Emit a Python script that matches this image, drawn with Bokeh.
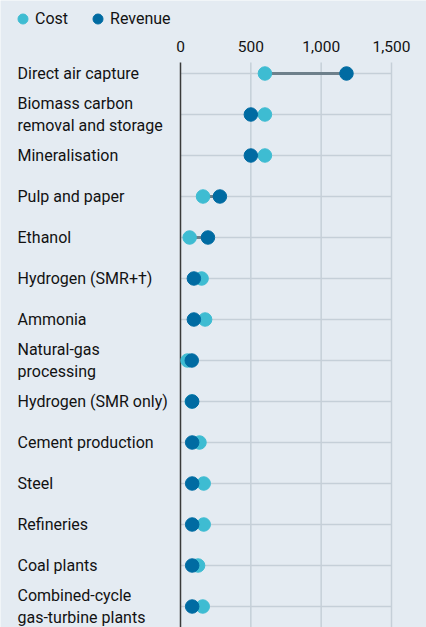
from bokeh.plotting import figure
from bokeh.models import (Range1d, LinearAxis, FixedTicker, NumeralTickFormatter,
                          Legend, LegendItem, ColumnDataSource)
from bokeh.core.properties import value
from bokeh.embed import file_html
from bokeh.resources import INLINE

# ---- data ----
categories = [
    "Direct air capture",
    "Biomass carbon\nremoval and storage",
    "Mineralisation",
    "Pulp and paper",
    "Ethanol",
    "Hydrogen (SMR+\u2020)",
    "Ammonia",
    "Natural-gas\nprocessing",
    "Hydrogen (SMR only)",
    "Cement production",
    "Steel",
    "Refineries",
    "Coal plants",
    "Combined-cycle\ngas-turbine plants",
]
cost = [600, 600, 600, 160, 65, 150, 175, 50, 80, 135, 165, 165, 125, 158]
revenue = [1180, 500, 500, 280, 195, 95, 95, 80, 83, 83, 83, 83, 83, 83]
ticks = [0, 500, 1000, 1500]

BG = "#E4EBF2"
COST_C = "#3EBCD2"
REV_C = "#006BA2"
GRID_C = "#C5CFD8"
TEXT_C = "#121212"
FONT = "Roboto"

W, H = 426, 627
n = len(categories)
ys = list(range(n))

# x mapping: zero at 180px, 1500 at 391px
px_per_unit = (391 - 180) / 1500.0
x_start = -180 / px_per_unit
x_end = (W - 180) / px_per_unit
# y mapping: row i centre at 73 + 41*i px
row0, step = 73, 41.0
y_top = -row0 / step
y_bot = (H - row0) / step
grid_top = (62 - row0) / step

p = figure(width=W, height=H, output_backend="svg", toolbar_location=None,
           x_range=Range1d(x_start, x_end), y_range=Range1d(y_bot, y_top),
           x_axis_location=None, y_axis_location=None,
           min_border=0,
           background_fill_color=BG, border_fill_color=BG, outline_line_color=None)
p.grid.visible = False

src = ColumnDataSource(dict(y=ys, cost=cost, revenue=revenue, cat=categories,
                            x0=[ticks[0]] * n, x1=[ticks[-1]] * n,
                            lx=[x_start] * n))
gsrc = ColumnDataSource(dict(x=ticks[1:], y0=[grid_top] * 3, y1=[y_bot] * 3))

# vertical grid lines
p.segment(x0="x", x1="x", y0="y0", y1="y1", source=gsrc, line_color=GRID_C, line_width=1.5)
# horizontal row lines
p.segment(x0="x0", x1="x1", y0="y", y1="y", source=src, line_color=GRID_C, line_width=1.5)
# zero line
p.segment(x0=[ticks[0]], x1=[ticks[0]], y0=[grid_top], y1=[y_bot], line_color="#3A3A3A", line_width=1.5)
# connectors
p.segment(x0="cost", x1="revenue", y0="y", y1="y", source=src, line_color="#6E808B", line_width=3)
r_cost = p.scatter(x="cost", y="y", source=src, size=13.5, fill_color=COST_C, line_color=COST_C)
r_rev = p.scatter(x="revenue", y="y", source=src, size=13.5, fill_color=REV_C, line_color=REV_C)

# category labels
p.text(x="lx", y="y", text="cat", source=src, x_offset=17, text_align="left",
       text_baseline="middle", text_font=value(FONT), text_font_size="16px",
       text_color=TEXT_C, text_line_height=1.125)

axis = LinearAxis(ticker=FixedTicker(ticks=ticks), formatter=NumeralTickFormatter(format="0,0"),
                  fixed_location=grid_top)
axis.axis_line_color = None
axis.major_tick_line_color = None
axis.minor_tick_line_color = None
axis.major_tick_out = 0
axis.major_tick_in = 0
axis.major_label_standoff = 11
axis.major_label_text_font = FONT
axis.major_label_text_font_size = "15.5px"
axis.major_label_text_color = TEXT_C
p.add_layout(axis, "above")

legend = Legend(items=[LegendItem(label="Cost", renderers=[r_cost]),
                       LegendItem(label="Revenue", renderers=[r_rev])],
                orientation="horizontal", location=(10, H - 5.5 - 25),
                background_fill_alpha=0, border_line_color=None,
                padding=0, margin=0, spacing=17, glyph_width=25, glyph_height=25,
                label_standoff=0, label_text_font=FONT, label_text_font_size="16px",
                label_text_color=TEXT_C, label_height=12)
p.add_layout(legend, "center")

open("out.html", "w").write(file_html(p, INLINE))
